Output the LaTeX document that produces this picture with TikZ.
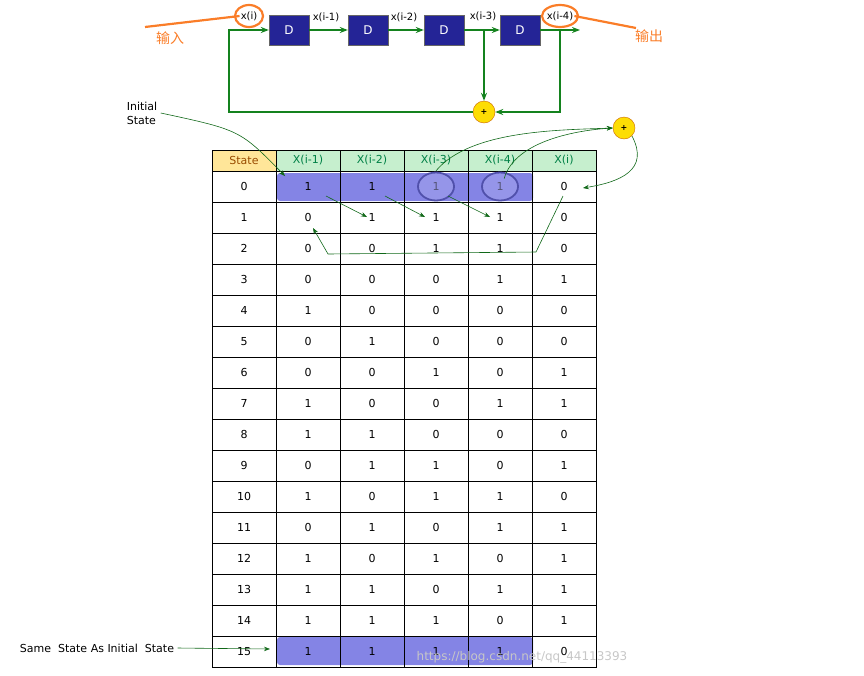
\documentclass[tikz,border=0pt]{standalone}
\usepackage{fontspec}
\setmainfont{DejaVu Sans}
\newfontfamily\cjk{Noto Sans CJK SC}
\usetikzlibrary{arrows.meta}
\definecolor{dblue}{RGB}{36,36,150}
\definecolor{lgreen}{RGB}{198,239,206}
\definecolor{lorange}{RGB}{255,230,153}
\definecolor{tgreen}{RGB}{0,128,70}
\definecolor{wire}{RGB}{20,130,30}
\definecolor{org}{RGB}{250,125,40}
\definecolor{band}{RGB}{110,110,225}
\tikzset{
  dbox/.style={minimum width=40pt, minimum height=30pt, draw=black!60, fill=dblue, text=white, font=\fontsize{12}{14}\selectfont},
  xor/.style={circle, minimum size=22pt, inner sep=0pt, draw=orange!80!black, fill=yellow!80!orange, font=\footnotesize\bfseries},
  wr/.style={draw=wire, line width=2.2pt},
  note/.style={draw=wire!80!black, line width=0.6pt, -{Stealth[length=6pt]}},
  cell/.style={draw, minimum width=64pt, minimum height=31pt, inner sep=0pt, font=\fontsize{11}{13}\selectfont},
  lbl/.style={font=\fontsize{10}{12}\selectfont, inner sep=1pt}
}
\begin{document}
\begin{tikzpicture}[x=1pt,y=-1pt]
\useasboundingbox (0,0) rectangle (864,675);
% shift register
\node [dbox] (D1) at (289,30) {D};
\node [dbox] (D2) at (368,30) {D};
\node [dbox] (D3) at (444,30) {D};
\node [dbox] (D4) at (520,30) {D};
\node [xor] (P1) at (484,112) {+};
\coordinate (L) at (229,30);
\coordinate (R) at (560,30);
\coordinate (T) at (484,30);
\coordinate (O) at (580,30);
\draw [wr, -{Stealth[length=8pt]}] (P1) -| (L) -- (D1);
\draw [wr, -{Stealth[length=8pt]}] (D1) -- (D2);
\draw [wr, -{Stealth[length=8pt]}] (D2) -- (D3);
\draw [wr, -{Stealth[length=8pt]}] (D3) -- (D4);
\draw [wr, -{Stealth[length=8pt]}] (D4) -- (O);
\draw [wr, -{Stealth[length=8pt]}] (T) -- (P1);
\draw [wr, -{Stealth[length=8pt]}] (R) |- (P1);
\node [lbl] (xi) at (249,16) {x(i)};
\node [lbl] (x1) at (326,17) {x(i-1)};
\node [lbl] (x2) at (404,17) {x(i-2)};
\node [lbl] (x3) at (483,16) {x(i-3)};
\node [lbl] (x4) at (560,16) {x(i-4)};
\draw [org, line width=2.2pt] (xi) ellipse (14 and 11);
\draw [org, line width=2.2pt] (x4) ellipse (18 and 11);
\node [text=org, font=\cjk\fontsize{14}{16}\selectfont] (in) at (170,38) {输入};
\node [text=org, font=\cjk\fontsize{14}{16}\selectfont] (out) at (649,36) {输出};
\draw [org, line width=2.2pt] (145,27) -- (xi.west);
\draw [org, line width=2.2pt] (x4.east) -- (636,28);
% table
\foreach \t [count=\c] in {X(i-1),X(i-2),X(i-3),X(i-4),X(i)}
  \node [cell, minimum height=21pt, fill=lgreen, text=tgreen] (h\c) at (244+64*\c,160.5) {\t};
\node [cell, minimum height=21pt, fill=lorange, text=orange!60!black] (h0) at (244,160.5) {State};
\fill [band, opacity=0.85, rounded corners=3pt] (277,173) rectangle (533,201);
\fill [band, opacity=0.85, rounded corners=3pt] (277,637) rectangle (533,665);
\foreach \r/\a/\b/\c/\d/\e in {0/1/1/1/1/0,1/0/1/1/1/0,2/0/0/1/1/0,3/0/0/0/1/1,
  4/1/0/0/0/0,5/0/1/0/0/0,6/0/0/1/0/1,7/1/0/0/1/1,8/1/1/0/0/0,9/0/1/1/0/1,
  10/1/0/1/1/0,11/0/1/0/1/1,12/1/0/1/0/1,13/1/1/0/1/1,14/1/1/1/0/1,15/1/1/1/1/0} {
  \node [cell] (s\r) at (244,186.5+31*\r) {\r};
  \node [cell] (a\r) at (308,186.5+31*\r) {\a};
  \node [cell] (b\r) at (372,186.5+31*\r) {\b};
  \node [cell] (c\r) at (436,186.5+31*\r) {\c};
  \node [cell] (d\r) at (500,186.5+31*\r) {\d};
  \node [cell] (e\r) at (564,186.5+31*\r) {\e};
}
\draw [dblue!80, line width=1.8pt, fill=band!60, fill opacity=0.5] (c0.center) ellipse (18 and 14);
\draw [dblue!80, line width=1.8pt, fill=band!60, fill opacity=0.5] (d0.center) ellipse (18 and 14);
% feedback annotations
\node [xor] (P2) at (624,128) {+};
\node [font=\fontsize{11}{14}\selectfont, align=left] (init) at (142,113) {Initial\\State};
\node [font=\fontsize{11}{13}\selectfont] (same) at (97,648) {Same\ \ State As Initial\ \ State};
\coordinate (i0) at (285,176);
\coordinate (f0) at (270,649);
\draw [note] (init.east) .. controls (240,130) .. (i0);
\draw [note] (same.east) -- (f0);
\draw [note] (c0.north) .. controls (470,130) and (560,130) .. (P2.west);
\draw [note] ([xshift=2pt]d0.east) ++(-30,-8) .. controls (515,140) and (580,130) .. (P2.west);
\draw [note] (P2.south east) .. controls (650,170) and (620,182) .. (583,188);
\draw [note] (563,196) -- (536,252) -- (328,254) -- (313,228);
\draw [note] (326,196) -- (367,217);
\draw [note] (385,196) -- (425,217);
\draw [note] (448,196) -- (490,217);
\node [text=black!22, font=\fontsize{12}{14}\selectfont] (wm) at (522,657) {https://blog.csdn.net/qq\_44113393};
\end{tikzpicture}
\end{document}
